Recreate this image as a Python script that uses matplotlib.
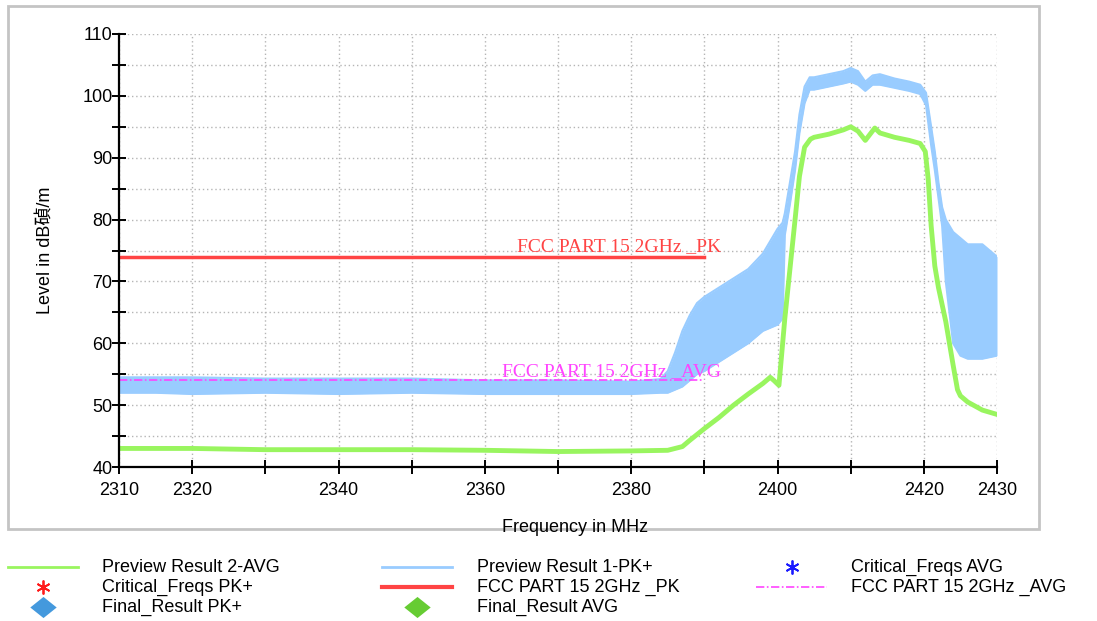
import matplotlib
matplotlib.use("Agg")
import matplotlib.pyplot as plt
from matplotlib.lines import Line2D
from matplotlib.patches import Rectangle

# ---------------- data ----------------
# Preview Result 1-PK+ : band envelope (lower / upper) in dBuV/m
pk_freq = [2310, 2315, 2320, 2330, 2340, 2350, 2360, 2370, 2380, 2384, 2385,
           2386, 2387, 2388, 2389, 2390, 2392, 2394, 2396, 2398, 2399, 2400,
           2400.7, 2401, 2401.7, 2402.4, 2403, 2403.7, 2404.4, 2405, 2407,
           2409, 2410, 2411, 2412, 2413, 2414, 2416, 2418, 2419.5, 2420.3,
           2421, 2421.5, 2422, 2422.5, 2423, 2424, 2425, 2426, 2428, 2430]
pk_low = [52.0, 52.0, 51.8, 52.0, 51.8, 52.0, 51.8, 51.8, 51.8, 52.0, 52.0,
          52.5, 53.0, 54.0, 55.0, 55.5, 57.0, 58.5, 60.0, 62.0, 62.5, 63.0,
          64.0, 77.5, 82.5, 88.0, 94.0, 98.8, 101.0, 101.0, 101.5,
          102.0, 102.3, 101.8, 100.8, 101.8, 101.8, 101.3, 100.8, 100.3, 98.5,
          92.0, 88.0, 83.5, 79.0, 70.0, 60.0, 58.0, 57.5, 57.5, 58.0]
pk_high = [54.5, 54.5, 54.5, 54.3, 54.3, 54.3, 54.0, 54.0, 53.8, 54.2, 55.5,
           58.5, 62.0, 64.5, 66.5, 67.5, 69.0, 70.5, 72.0, 74.5, 76.5, 78.5,
           79.5, 81.0, 86.0, 91.0, 97.0, 101.5, 103.0, 103.0, 103.5,
           104.0, 104.5, 104.0, 102.3, 103.3, 103.5, 102.8, 102.3, 101.8, 100.5,
           95.0, 91.0, 86.0, 82.0, 80.0, 78.0, 77.0, 76.0, 76.0, 74.0]

# Preview Result 2-AVG : centre trace in dBuV/m
avg_freq = [2310, 2320, 2330, 2340, 2350, 2360, 2370, 2380, 2385, 2387, 2388,
            2390, 2392, 2394, 2396, 2398, 2399, 2399.5, 2400.2, 2401, 2401.7,
            2402.4, 2403, 2403.7, 2404.5, 2405, 2407, 2409, 2410, 2411, 2412,
            2413.3, 2414, 2416, 2418, 2419.5, 2420.2, 2420.6, 2421, 2421.5,
            2422, 2423, 2424, 2424.6, 2425, 2426, 2428, 2430]
avg_level = [43.0, 43.0, 42.8, 42.8, 42.8, 42.7, 42.5, 42.6, 42.7, 43.3, 44.3,
             46.2, 48.0, 50.0, 51.8, 53.5, 54.5, 54.0, 53.2, 64.0, 72.0,
             80.0, 87.0, 91.7, 93.0, 93.3, 93.8, 94.5, 95.0, 94.3, 92.8,
             94.8, 94.0, 93.3, 92.8, 92.3, 91.0, 86.5, 79.0, 72.5,
             69.0, 63.5, 56.5, 52.5, 51.5, 50.5, 49.2, 48.5]

# Limit lines
limit_freq = [2310, 2390]
limit_pk = [74, 74]
limit_avg = [54, 54]

# Axis ticks
x_ticks = [2310, 2320, 2330, 2340, 2350, 2360, 2370, 2380, 2390, 2400, 2410, 2420, 2430]
x_labeled = [2310, 2320, 2340, 2360, 2380, 2400, 2420, 2430]
y_ticks = [40, 45, 50, 55, 60, 65, 70, 75, 80, 85, 90, 95, 100, 105, 110]
y_labeled = [40, 50, 60, 70, 80, 90, 100, 110]

legend_labels = ["Preview Result 2-AVG", "Preview Result 1-PK+", "Critical_Freqs AVG",
                 "Critical_Freqs PK+", "FCC PART 15 2GHz _PK", "FCC PART 15 2GHz _AVG",
                 "Final_Result PK+", "Final_Result AVG"]

# ---------------- styling ----------------
plt.rcParams['font.family'] = ['Liberation Sans', 'Noto Sans CJK SC']
C_PK = '#99ccff'
C_AVG = '#99f55f'
C_RED = '#ff4444'
C_MAG = '#ff44ff'
FS = 13

W, H = 1097, 621
fig = plt.figure(figsize=(W / 100, H / 100), dpi=100)
ax = fig.add_axes([119 / W, 1 - 467 / H, (997 - 119) / W, (467 - 34) / H])

# outer frame
fig.add_artist(Rectangle((8 / W, 1 - 529 / H), (1039 - 8) / W, (529 - 6) / H,
                         transform=fig.transFigure, fill=False,
                         edgecolor='#c4c4c4', linewidth=2, zorder=0))

# traces
ax.fill_between(pk_freq, pk_low, pk_high, color=C_PK, linewidth=0, zorder=2)
ax.plot(pk_freq, pk_low, color=C_PK, lw=1.5, zorder=2)
ax.plot(pk_freq, pk_high, color=C_PK, lw=1.5, zorder=2)
ax.plot(avg_freq, avg_level, color=C_AVG, lw=3.5, solid_joinstyle='round', zorder=3)

ax.plot(limit_freq, limit_pk, color=C_RED, lw=2.5, zorder=4)
ax.plot(limit_freq, limit_avg, color=C_MAG, lw=1.2, dashes=(5, 1.5, 1, 1.5), zorder=4)

ax.text(2378.3, 74.2, "FCC PART 15 2GHz _PK", color=C_RED, ha='center', va='bottom',
        family='Liberation Serif', fontsize=14, zorder=5)
ax.text(2377.3, 54.1, "FCC PART 15 2GHz _AVG", color=C_MAG, ha='center', va='bottom',
        family='Liberation Serif', fontsize=14, zorder=5)

# axes styling
ax.set_xlim(2310, 2430)
ax.set_ylim(40, 110)
ax.set_xticks(x_ticks)
ax.set_xticklabels([str(t) if t in x_labeled else '' for t in x_ticks])
ax.set_yticks(y_ticks)
ax.set_yticklabels([str(t) if t in y_labeled else '' for t in y_ticks])
for s in ('top', 'right'):
    ax.spines[s].set_visible(False)
for s in ('left', 'bottom'):
    ax.spines[s].set_linewidth(1.6)
    ax.spines[s].set_zorder(6)
ax.tick_params(axis='both', direction='inout', length=9.5, width=1.4,
               labelsize=FS, colors='black')
ax.tick_params(axis='x', pad=6)
ax.tick_params(axis='y', pad=0)
ax.grid(True, color='#b5b5b5', linestyle=(0, (1, 2)), linewidth=1)
ax.set_axisbelow(True)

ax.set_xlabel("Frequency in MHz", fontsize=FS)
ax.xaxis.set_label_coords((575 - 119) / 878, (467 - 519) / 433)
ax.set_ylabel("Level in dB碵/m", fontsize=FS,
              family=['Liberation Sans', 'Noto Sans CJK SC'])
ax.yaxis.set_label_coords((55 - 119) / 878, 0.5)

# legend (drawn in figure pixels)
def fx(px):
    return px / W

def fy(py):
    return 1 - py / H

rows = [567, 587, 607]
cols_handle = [(8, 78), (382, 452), (756, 827)]
cols_text = [102, 477, 851]
order = [(0, 0), (0, 1), (0, 2), (1, 0), (1, 1), (1, 2), (2, 0), (2, 1)]
diamond = [(-1, 0), (0, 0.8), (1, 0), (0, -0.8), (-1, 0)]
styles = [
    dict(kind='line', color=C_AVG, lw=2),
    dict(kind='line', color=C_PK, lw=2),
    dict(kind='marker', color='#1a1aff', marker=(6, 2, 0), ms=10),
    dict(kind='marker', color='#ff1a1a', marker=(6, 2, 0), ms=10),
    dict(kind='line', color=C_RED, lw=3),
    dict(kind='line', color=C_MAG, lw=1.2, dashes=(5, 1.5, 1, 1.5)),
    dict(kind='marker', color='#4499dd', marker=diamond, ms=19),
    dict(kind='marker', color='#66cc33', marker=diamond, ms=19),
]
for label, (r, c), st in zip(legend_labels, order, styles):
    y = fy(rows[r])
    x0, x1 = cols_handle[c]
    if st['kind'] == 'line':
        kw = dict(color=st['color'], lw=st['lw'])
        if 'dashes' in st:
            kw['dashes'] = st['dashes']
        fig.add_artist(Line2D([fx(x0), fx(x1)], [y, y], transform=fig.transFigure, **kw))
    else:
        xm = (x0 + x1) / 2
        is_star = isinstance(st['marker'], tuple)
        fig.add_artist(Line2D([fx(xm)], [y], transform=fig.transFigure, linestyle='none',
                              marker=st['marker'], markersize=st['ms'],
                              color=st['color'], markeredgecolor=st['color'],
                              markeredgewidth=1.3 if is_star else 0))
    fig.text(fx(cols_text[c]), y, label, fontsize=FS, va='center', ha='left')

fig.savefig('out.png', dpi=100)
